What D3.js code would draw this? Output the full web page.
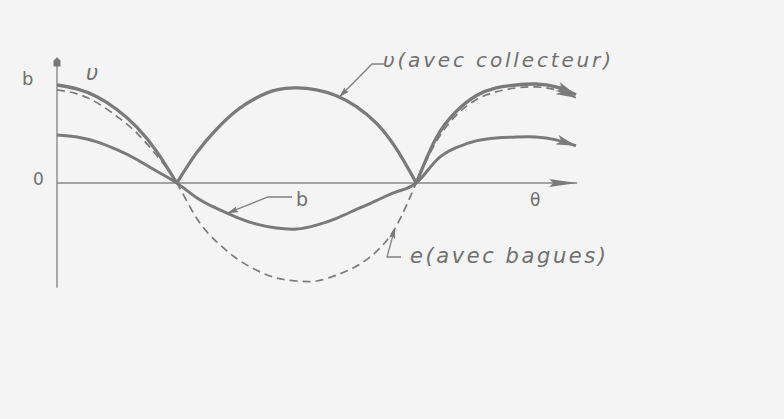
<!DOCTYPE html>
<html>
<head>
<meta charset="utf-8">
<script src="https://cdn.jsdelivr.net/npm/d3@7"></script>
<style>
  html, body { margin: 0; padding: 0; background: #f4f4f4; }
  svg { display: block; }
  .lbl { fill: #6f6f6f; font-family: "DejaVu Sans", sans-serif; }
</style>
</head>
<body>
<svg id="chart" width="784" height="419"></svg>
<script>
// angle theta in degrees (1 = peak of v)
const theta = [0, 15, 30, 45, 60, 75, 90, 105, 120, 135, 150, 165, 180, 195,
  210, 225, 240, 255, 270, 285, 300, 315, 330, 345, 360, 375, 390];

// v (avec collecteur) - rectified
const vCollecteur = [1.00, 0.96, 0.88, 0.75, 0.57, 0.32, 0.00, 0.31, 0.55, 0.74, 0.87, 0.95, 0.97, 0.95,
  0.89, 0.78, 0.61, 0.35, 0.00, 0.46, 0.73, 0.89, 0.97, 1.00, 1.01, 0.98, 0.90];

// e (avec bagues) - dashed
const eBagues = [0.95, 0.91, 0.82, 0.68, 0.51, 0.28, 0.00, -0.36, -0.60, -0.77, -0.89, -0.97, -1.00, -1.00,
  -0.94, -0.85, -0.70, -0.44, 0.00, 0.42, 0.69, 0.85, 0.93, 0.97, 0.98, 0.95, 0.87];

// b - field
const bField = [0.49, 0.47, 0.42, 0.34, 0.24, 0.12, 0.00, -0.15, -0.26, -0.35, -0.42, -0.46, -0.47, -0.43,
  -0.36, -0.27, -0.18, -0.09, 0.00, 0.23, 0.36, 0.43, 0.46, 0.47, 0.47, 0.44, 0.38];

// cusps of v (where the collector switches)
const vBreaks = [90, 270];

const svg = d3.select("#chart");
const ink = "#7a7a7a";

const x = d3.scaleLinear().domain([0, 360]).range([57, 536]);
const y = d3.scaleLinear().domain([-1, 1]).range([281, 85]);

// arrow markers
const defs = svg.append("defs");
function marker(id, len, half, notch) {
  defs.append("marker")
    .attr("id", id)
    .attr("viewBox", `0 0 ${len} ${half * 2}`)
    .attr("refX", len).attr("refY", half)
    .attr("markerWidth", len).attr("markerHeight", half * 2)
    .attr("markerUnits", "userSpaceOnUse")
    .attr("orient", "auto-start-reverse")
    .append("path")
    .attr("d", `M0,0 L${len},${half} L0,${half * 2} L${notch},${half} Z`)
    .attr("fill", ink);
}
marker("arrBig", 20, 5, 5);
marker("arrAxis", 28, 4, 4);
marker("arrSmall", 11, 3.2, 2);

// axes
const yAxisX = x(0);
const yTop = y(1.28);
svg.append("line")
  .attr("x1", yAxisX).attr("x2", yAxisX)
  .attr("y1", y(-1.07)).attr("y2", yTop)
  .attr("stroke", "#888").attr("stroke-width", 1.4);
svg.append("path")
  .attr("d", `M${yAxisX - 3.5},${yTop + 9} L${yAxisX - 3.5},${yTop + 3} L${yAxisX},${yTop} L${yAxisX + 3.5},${yTop + 3} L${yAxisX + 3.5},${yTop + 9} Z`)
  .attr("fill", "#777");

svg.append("line")
  .attr("x1", yAxisX).attr("x2", x(391))
  .attr("y1", y(0)).attr("y2", y(0))
  .attr("stroke", "#888").attr("stroke-width", 1.3)
  .attr("marker-end", "url(#arrAxis)");

const line = d3.line()
  .x(d => x(d[0]))
  .y(d => y(d[1]))
  .curve(d3.curveNatural);

const pts = vals => theta.map((t, i) => [t, vals[i]]);

// b
svg.append("path")
  .datum(pts(bField))
  .attr("d", line)
  .attr("fill", "none")
  .attr("stroke", ink).attr("stroke-width", 3)
  .attr("marker-end", "url(#arrBig)");

// e dashed
svg.append("path")
  .datum(pts(eBagues))
  .attr("d", line)
  .attr("fill", "none")
  .attr("stroke", ink).attr("stroke-width", 1.7)
  .attr("stroke-dasharray", "8,5")
  .attr("marker-end", "url(#arrBig)");

// v in three arches
const vPts = pts(vCollecteur);
const cuts = [0, ...vBreaks, 390];
cuts.slice(0, -1).forEach((c, k) => {
  const seg = vPts.filter(p => p[0] >= c && p[0] <= cuts[k + 1]);
  svg.append("path")
    .datum(seg)
    .attr("d", line)
    .attr("fill", "none")
    .attr("stroke", ink).attr("stroke-width", 3.3)
    .attr("marker-end", k === cuts.length - 2 ? "url(#arrBig)" : null);
});

// leader lines
const at = (vals, t) => [x(t), y(d3.scaleLinear().domain(theta).range(vals)(t))];
function leader(tip, rest) {
  svg.append("path")
    .attr("d", d3.line()([tip, ...rest]))
    .attr("fill", "none")
    .attr("stroke", "#808080").attr("stroke-width", 1.3)
    .attr("marker-start", "url(#arrSmall)");
}
leader(at(vCollecteur, 212), [[372, 64], [384, 64]]);
leader(at(bField, 128), [[268, 197], [292, 197]]);
leader(at(eBagues, 254), [[387, 257], [401, 257]]);

// texts
svg.append("text").attr("class", "lbl")
  .attr("x", 383).attr("y", 67)
  .attr("font-size", 20).attr("font-style", "italic")
  .attr("textLength", 228).attr("lengthAdjust", "spacing")
  .text("υ(avec collecteur)");

svg.append("text").attr("class", "lbl")
  .attr("x", 410).attr("y", 263)
  .attr("font-size", 21).attr("font-style", "italic")
  .attr("textLength", 196).attr("lengthAdjust", "spacing")
  .text("e(avec bagues)");

svg.append("text").attr("class", "lbl")
  .attr("x", 86).attr("y", 80)
  .attr("font-size", 21).attr("font-style", "italic")
  .text("υ");

svg.append("text").attr("class", "lbl")
  .attr("x", 22).attr("y", 85)
  .attr("font-size", 18)
  .text("b");

svg.append("text").attr("class", "lbl")
  .attr("x", 33).attr("y", 185)
  .attr("font-size", 17)
  .text("0");

svg.append("text").attr("class", "lbl")
  .attr("x", 296).attr("y", 206)
  .attr("font-size", 19)
  .text("b");

svg.append("text").attr("class", "lbl")
  .attr("x", 530).attr("y", 206)
  .attr("font-size", 17)
  .text("θ");
</script>
</body>
</html>
